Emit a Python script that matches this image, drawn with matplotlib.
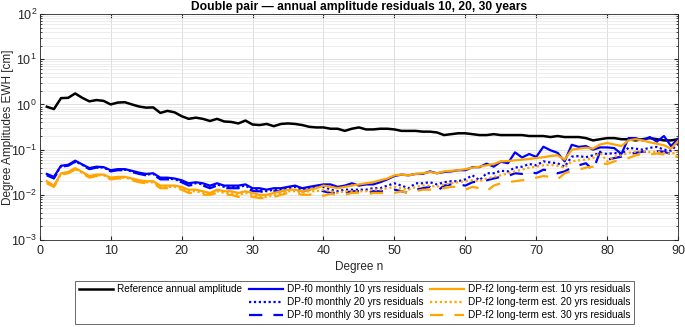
import matplotlib
matplotlib.use("Agg")
import matplotlib.pyplot as plt
from matplotlib.lines import Line2D
from matplotlib.ticker import LogLocator, NullFormatter

plt.rcParams['font.family'] = ['Liberation Sans', 'DejaVu Sans']
plt.rcParams['mathtext.fontset'] = 'custom'
plt.rcParams['mathtext.rm'] = 'Liberation Sans'
plt.rcParams['mathtext.it'] = 'Liberation Sans'

degrees = list(range(1, 91))

reference = [
    0.89, 0.79, 1.38, 1.40, 1.75, 1.40, 1.17, 1.25, 1.20, 1.00,
    1.10, 1.12, 1.00, 0.90, 0.85, 0.86, 0.65, 0.72, 0.67, 0.55,
    0.48, 0.51, 0.48, 0.43, 0.48, 0.42, 0.41, 0.38, 0.44, 0.36,
    0.35, 0.37, 0.33, 0.37, 0.38, 0.37, 0.35, 0.32, 0.31, 0.31,
    0.29, 0.29, 0.26, 0.29, 0.31, 0.28, 0.28, 0.29, 0.29, 0.28,
    0.26, 0.26, 0.26, 0.25, 0.25, 0.24, 0.21, 0.22, 0.23, 0.23,
    0.22, 0.21, 0.21, 0.22, 0.21, 0.21, 0.21, 0.21, 0.20, 0.20,
    0.20, 0.19, 0.20, 0.19, 0.19, 0.19, 0.18, 0.16, 0.17, 0.18,
    0.18, 0.17, 0.17, 0.16, 0.17, 0.18, 0.17, 0.16, 0.16, 0.17]

f0_10 = [
    0.029, 0.025, 0.044, 0.046, 0.057, 0.047, 0.039, 0.042, 0.041, 0.035,
    0.037, 0.037, 0.034, 0.031, 0.029, 0.030, 0.024, 0.024, 0.023, 0.021,
    0.018, 0.019, 0.018, 0.016, 0.018, 0.016, 0.016, 0.016, 0.017, 0.014,
    0.014, 0.013, 0.014, 0.014, 0.015, 0.016, 0.014, 0.015, 0.016, 0.017,
    0.017, 0.015, 0.016, 0.018, 0.016, 0.017, 0.017, 0.019, 0.022, 0.026,
    0.028, 0.027, 0.029, 0.029, 0.033, 0.030, 0.032, 0.033, 0.035, 0.035,
    0.041, 0.041, 0.049, 0.042, 0.054, 0.050, 0.087, 0.067, 0.080, 0.069,
    0.116, 0.097, 0.085, 0.055, 0.128, 0.115, 0.120, 0.100, 0.112, 0.112,
    0.108, 0.080, 0.180, 0.180, 0.160, 0.190, 0.150, 0.200, 0.120, 0.175]

f0_20 = [
    0.028, 0.024, 0.043, 0.045, 0.055, 0.046, 0.038, 0.041, 0.040, 0.034,
    0.036, 0.036, 0.033, 0.030, 0.028, 0.029, 0.023, 0.023, 0.022, 0.020,
    0.017, 0.018, 0.017, 0.015, 0.017, 0.015, 0.015, 0.015, 0.016, 0.013,
    0.013, 0.012, 0.013, 0.013, 0.014, 0.015, 0.013, 0.014, 0.015, 0.015,
    0.013, 0.012, 0.013, 0.013, 0.013, 0.013, 0.014, 0.014, 0.016, 0.018,
    0.016, 0.014, 0.018, 0.018, 0.019, 0.017, 0.019, 0.020, 0.020, 0.022,
    0.027, 0.021, 0.030, 0.030, 0.034, 0.033, 0.040, 0.042, 0.048, 0.045,
    0.055, 0.052, 0.050, 0.042, 0.070, 0.072, 0.068, 0.075, 0.085, 0.080,
    0.085, 0.078, 0.110, 0.105, 0.100, 0.110, 0.115, 0.100, 0.095, 0.135]

f0_30 = [
    0.027, 0.023, 0.042, 0.044, 0.054, 0.045, 0.037, 0.040, 0.039, 0.033,
    0.035, 0.035, 0.032, 0.029, 0.027, 0.028, 0.022, 0.022, 0.021, 0.019,
    0.016, 0.017, 0.016, 0.014, 0.016, 0.014, 0.014, 0.014, 0.015, 0.012,
    0.012, 0.011, 0.012, 0.012, 0.013, 0.013, 0.012, 0.013, 0.013, 0.012,
    0.011, 0.011, 0.011, 0.012, 0.012, 0.011, 0.012, 0.012, 0.012, 0.013,
    0.012, 0.011, 0.013, 0.014, 0.015, 0.012, 0.016, 0.017, 0.017, 0.016,
    0.019, 0.020, 0.021, 0.023, 0.025, 0.026, 0.030, 0.029, 0.032, 0.030,
    0.036, 0.034, 0.030, 0.033, 0.040, 0.045, 0.050, 0.035, 0.090, 0.060,
    0.065, 0.070, 0.080, 0.085, 0.090, 0.088, 0.092, 0.090, 0.080, 0.075]

f2_10 = [
    0.020, 0.016, 0.030, 0.032, 0.039, 0.032, 0.026, 0.028, 0.028, 0.024,
    0.025, 0.025, 0.023, 0.021, 0.020, 0.020, 0.016, 0.016, 0.016, 0.015,
    0.013, 0.013, 0.012, 0.011, 0.013, 0.012, 0.012, 0.011, 0.012, 0.011,
    0.010, 0.010, 0.011, 0.012, 0.013, 0.013, 0.012, 0.013, 0.014, 0.016,
    0.015, 0.014, 0.015, 0.016, 0.017, 0.018, 0.019, 0.021, 0.023, 0.027,
    0.028, 0.027, 0.029, 0.030, 0.032, 0.030, 0.033, 0.034, 0.035, 0.037,
    0.040, 0.042, 0.045, 0.048, 0.055, 0.056, 0.058, 0.060, 0.062, 0.065,
    0.068, 0.072, 0.075, 0.060, 0.100, 0.105, 0.110, 0.105, 0.130, 0.140,
    0.130, 0.120, 0.160, 0.170, 0.160, 0.145, 0.135, 0.125, 0.105, 0.155]

f2_20 = [
    0.019, 0.015, 0.029, 0.031, 0.037, 0.031, 0.025, 0.027, 0.027, 0.023,
    0.024, 0.024, 0.022, 0.020, 0.019, 0.019, 0.015, 0.015, 0.015, 0.014,
    0.012, 0.012, 0.011, 0.011, 0.012, 0.011, 0.011, 0.010, 0.011, 0.010,
    0.009, 0.009, 0.010, 0.011, 0.012, 0.012, 0.011, 0.012, 0.012, 0.013,
    0.012, 0.011, 0.012, 0.012, 0.012, 0.012, 0.013, 0.013, 0.014, 0.015,
    0.014, 0.013, 0.015, 0.016, 0.016, 0.015, 0.017, 0.018, 0.019, 0.020,
    0.021, 0.020, 0.023, 0.025, 0.027, 0.030, 0.033, 0.036, 0.040, 0.042,
    0.045, 0.046, 0.044, 0.040, 0.055, 0.058, 0.060, 0.065, 0.085, 0.055,
    0.070, 0.075, 0.085, 0.090, 0.092, 0.088, 0.090, 0.085, 0.080, 0.090]

f2_30 = [
    0.018, 0.015, 0.028, 0.030, 0.036, 0.030, 0.024, 0.026, 0.026, 0.022,
    0.023, 0.023, 0.021, 0.019, 0.018, 0.018, 0.014, 0.014, 0.014, 0.013,
    0.011, 0.011, 0.010, 0.010, 0.011, 0.010, 0.010, 0.009, 0.010, 0.009,
    0.0085, 0.0085, 0.009, 0.010, 0.011, 0.011, 0.010, 0.010, 0.011, 0.0095,
    0.0105, 0.010, 0.010, 0.011, 0.011, 0.010, 0.011, 0.011, 0.011, 0.011,
    0.012, 0.011, 0.012, 0.013, 0.013, 0.014, 0.014, 0.015, 0.015, 0.013,
    0.015, 0.014, 0.012, 0.016, 0.018, 0.019, 0.020, 0.021, 0.022, 0.024,
    0.026, 0.025, 0.022, 0.030, 0.034, 0.036, 0.040, 0.042, 0.050, 0.048,
    0.055, 0.058, 0.065, 0.075, 0.080, 0.078, 0.082, 0.078, 0.072, 0.070]

labels = ["Reference annual amplitude",
          "DP-f0 monthly 10 yrs residuals",
          "DP-f0 monthly 20 yrs residuals",
          "DP-f0 monthly 30 yrs residuals",
          "DP-f2 long-term est. 10 yrs residuals",
          "DP-f2 long-term est. 20 yrs residuals",
          "DP-f2 long-term est. 30 yrs residuals"]

BLUE = "#0000ff"
ORANGE = "#ffa500"

fig = plt.figure(figsize=(6.85, 3.27), dpi=100)
ax = fig.add_axes([0.058, 0.266, 0.932, 0.691])

lw = 1.6
h_ref, = ax.plot(degrees, reference, color="black", lw=1.8, label=labels[0])
h1, = ax.plot(degrees, f0_10, color=BLUE, lw=lw, ls="-", label=labels[1])
h2, = ax.plot(degrees, f0_20, color=BLUE, lw=lw, ls=(0, (1, 1.2)), label=labels[2])
h3, = ax.plot(degrees, f0_30, color=BLUE, lw=lw, ls=(0, (6, 5)), label=labels[3])
h4, = ax.plot(degrees, f2_10, color=ORANGE, lw=lw, ls="-", label=labels[4])
h5, = ax.plot(degrees, f2_20, color=ORANGE, lw=lw, ls=(0, (1, 1.2)), label=labels[5])
h6, = ax.plot(degrees, f2_30, color=ORANGE, lw=lw, ls=(0, (6, 5)), label=labels[6])

ax.set_yscale("log")
ax.set_xlim(0, 90)
ax.set_ylim(1e-3, 1e2)
ax.set_xticks(range(0, 91, 10))
ax.yaxis.set_major_locator(LogLocator(base=10, numticks=10))
ax.yaxis.set_minor_locator(LogLocator(base=10, subs=range(2, 10), numticks=50))
ax.yaxis.set_minor_formatter(NullFormatter())

ax.grid(True, which="major", color="#d9d9d9", lw=0.6)
ax.grid(True, which="minor", axis="y", color="#e6e6e6", lw=0.5)
ax.set_axisbelow(True)
ax.tick_params(which="both", direction="in", top=True, right=True,
               labelsize=9, colors="#262626", length=3)
ax.tick_params(which="minor", length=1.5)
ax.tick_params(axis="y", pad=2)
for s in ax.spines.values():
    s.set_color("#262626")
    s.set_linewidth(0.6)

ax.set_xlabel("Degree n", fontsize=8.5, color="#262626", labelpad=3)
ax.set_ylabel("Degree Amplitudes EWH [cm]", fontsize=8.5, color="#262626")
ax.yaxis.set_label_coords(-0.041, 0.5)
ax.set_title("Double pair \u2014 annual amplitude residuals 10, 20, 30 years",
             fontsize=8.7, fontweight="bold", pad=3)

blank = Line2D([], [], color="none")
handles = [h_ref, blank, blank, h1, h2, h3, h4, h5, h6]
leg_labels = [labels[0], "", "", labels[1], labels[2], labels[3],
              labels[4], labels[5], labels[6]]
leg = fig.legend(handles, leg_labels, ncol=3, loc="lower center",
                 bbox_to_anchor=(0.5175, -0.005), fontsize=7.2, frameon=True,
                 fancybox=False, edgecolor="#262626", handlelength=3.4,
                 handletextpad=0.4, columnspacing=0.7, labelspacing=0.3,
                 borderpad=0.35)
leg.get_frame().set_linewidth(0.6)

fig.savefig("out.png", dpi=100)
